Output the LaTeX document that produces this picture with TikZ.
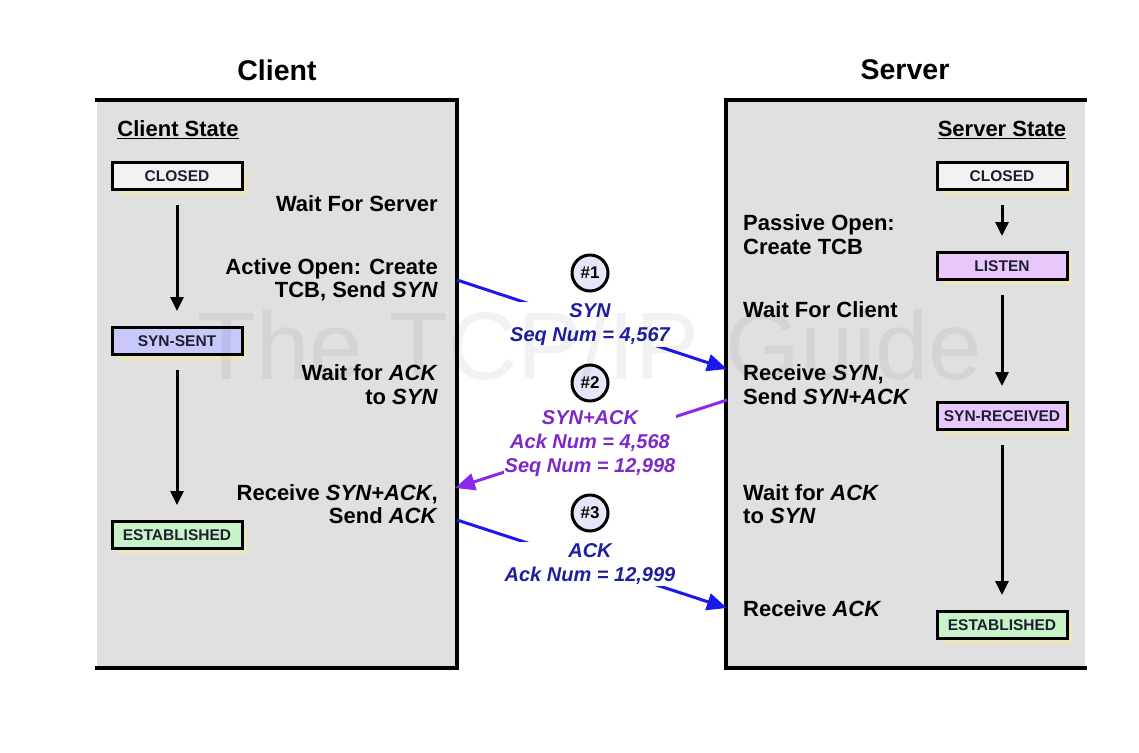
\documentclass[tikz,border=0pt]{standalone}
\usepackage{fontspec}
\setmainfont{Liberation Sans}
\definecolor{panelgrey}{RGB}{224, 224, 224}
\definecolor{msgblue}{RGB}{30, 30, 160}
\definecolor{lineblue}{RGB}{25, 25, 235}
\definecolor{msgpurple}{RGB}{125, 40, 200}
\definecolor{linepurple}{RGB}{140, 40, 235}
\definecolor{closedfill}{RGB}{242, 242, 242}
\definecolor{sentfill}{RGB}{200, 200, 250}
\definecolor{estfill}{RGB}{200, 242, 200}
\definecolor{listenfill}{RGB}{232, 200, 250}
\definecolor{shadowyellow}{RGB}{236, 230, 190}
\definecolor{stepfill}{RGB}{230, 230, 250}
\definecolor{boxtext}{RGB}{30, 30, 50}
\usetikzlibrary{arrows.meta, shadows, positioning}

\tikzset{
  statebox/.style={draw, line width=3pt, minimum width=130pt, minimum height=27pt, inner sep=0pt,
    font=\fontsize{15.5}{18}\selectfont\bfseries, text=boxtext,
    drop shadow={fill=shadowyellow, shadow xshift=5pt, shadow yshift=-5pt, opacity=1}},
  note/.style={font=\fontsize{22}{23.5}\selectfont\bfseries, inner sep=0pt},
  msg/.style={font=\fontsize{20}{24}\selectfont\bfseries\itshape, align=center, fill=white, inner sep=1pt},
  numcirc/.style={circle, draw, line width=3pt, fill=stepfill, minimum size=36pt, inner sep=0pt,
    font=\fontsize{17}{18}\selectfont\bfseries},
  flow/.style={-{Triangle[length=14pt, width=13pt]}, line width=3pt, shorten <=14pt, shorten >=15pt},
  msgline/.style={line width=3pt, -{Triangle[length=20pt, width=17pt]}},
  frame/.style={line width=4pt}
}

\begin{document}
\begin{tikzpicture}[x=1pt, y=-1pt]
  \useasboundingbox (0,0) rectangle (1139,752);

  % Titles
  \node[font=\fontsize{28.5}{30}\selectfont\bfseries] (clienttitle) at (277, 70) {Client};
  \node[font=\fontsize{28.5}{30}\selectfont\bfseries] (servertitle) at (905, 70) {Server};

  % Panels
  \fill[panelgrey] (97, 100) rectangle (457, 668);
  \draw[frame] (95, 100) -- (457, 100) -- (457, 668) -- (95, 668);
  \fill[panelgrey] (726, 100) rectangle (1085, 668);
  \draw[frame] (1087, 100) -- (726, 100) -- (726, 668) -- (1087, 668);

  % Client states
  \node[note] (clienthead) at (178, 130) {\underline{Client State}};
  \node[statebox, fill=closedfill] (cclosed) at (177, 176) {CLOSED};
  \node[statebox, fill=sentfill] (csynsent) at (177, 341) {SYN-SENT};
  \node[statebox, fill=estfill] (cest) at (177, 535) {ESTABLISHED};
  \draw[flow] (cclosed) -- (csynsent);
  \draw[flow] (csynsent) -- (cest);

  \node[note, anchor=east] (cwait) at (438, 204) {Wait For Server};
  \node[note, anchor=east, align=right] (copen) at (438, 279.5) {Active Open: Create\\TCB, Send \textit{SYN}};
  \node[note, anchor=east, align=right] (cwaitack) at (438, 384.5) {Wait for \textit{ACK}\\to \textit{SYN}};
  \node[note, anchor=east, align=right] (crecv) at (438, 504) {Receive \textit{SYN+ACK},\\Send \textit{ACK}};

  % Server states
  \node[note] (serverhead) at (1002, 130) {\underline{Server State}};
  \node[statebox, fill=closedfill] (sclosed) at (1002, 176) {CLOSED};
  \node[statebox, fill=listenfill] (slisten) at (1002, 266) {LISTEN};
  \node[statebox, fill=listenfill] (ssynrcvd) at (1002, 416) {SYN-RECEIVED};
  \node[statebox, fill=estfill] (sest) at (1002, 625) {ESTABLISHED};
  \draw[flow] (sclosed) -- (slisten);
  \draw[flow] (slisten) -- (ssynrcvd);
  \draw[flow] (ssynrcvd) -- (sest);

  \node[note, anchor=west, align=left] (sopen) at (743, 234.5) {Passive Open:\\Create TCB};
  \node[note, anchor=west] (swait) at (743, 310) {Wait For Client};
  \node[note, anchor=west, align=left] (srecv) at (743, 384.5) {Receive \textit{SYN},\\Send \textit{SYN+ACK}};
  \node[note, anchor=west, align=left] (swaitack) at (743, 504) {Wait for \textit{ACK}\\to \textit{SYN}};
  \node[note, anchor=west] (srecvack) at (743, 609) {Receive \textit{ACK}};

  % Messages
  \coordinate (syn0) at (457, 280);
  \coordinate (syn1) at (727, 369);
  \coordinate (synack0) at (727, 400);
  \coordinate (synack1) at (455, 488);
  \coordinate (ack0) at (457, 520);
  \coordinate (ack1) at (727, 608);
  \draw[msgline, lineblue] (syn0) -- (syn1);
  \draw[msgline, linepurple] (synack0) -- (synack1);
  \draw[msgline, lineblue] (ack0) -- (ack1);

  \node[numcirc] (step1) at (590, 273) {\#1};
  \node[msg, text=msgblue] (synmsg) at (590, 324.5) {SYN\\Seq Num = 4,567};
  \node[numcirc] (step2) at (590, 383) {\#2};
  \node[msg, text=msgpurple] (synackmsg) at (590, 444) {SYN+ACK\\Ack Num = 4,568\\Seq Num = 12,998};
  \node[numcirc] (step3) at (590, 513) {\#3};
  \node[msg, text=msgblue] (ackmsg) at (590, 564) {ACK\\Ack Num = 12,999};

  % Watermark
  \node[font=\fontsize{96}{96}\selectfont, text=black, text opacity=0.05] (mark) at (590, 345) {The TCP/IP Guide};
\end{tikzpicture}
\end{document}
